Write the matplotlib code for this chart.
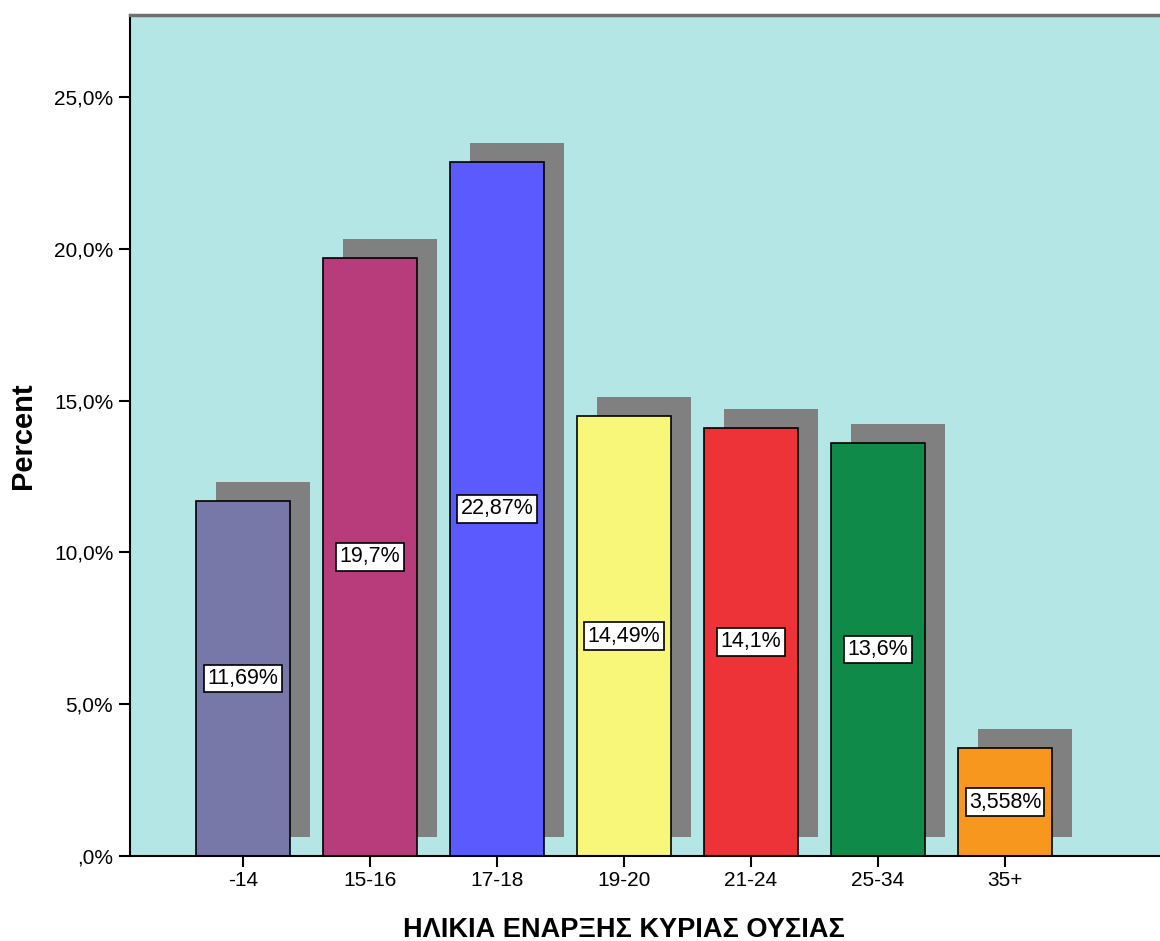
import numpy as np
from matplotlib import pyplot as plt

plt.rcParams['font.family'] = ['Liberation Sans', 'DejaVu Sans']

categories = ['-14', '15-16', '17-18', '19-20', '21-24', '25-34', '35+']
percent = [11.69, 19.7, 22.87, 14.49, 14.1, 13.6, 3.558]
labels = ['11,69%', '19,7%', '22,87%', '14,49%', '14,1%', '13,6%', '3,558%']
colors = ['#7878a8', '#b83c7c', '#5a5aff', '#f9f77a', '#ee3338', '#108a48', '#f8971e']
yticks = [0, 5, 10, 15, 20, 25]
ytick_labels = [',0%', '5,0%', '10,0%', '15,0%', '20,0%', '25,0%']

fig = plt.figure(figsize=(11.6, 9.41), dpi=100)
ax = fig.add_axes([0.112, 0.0903, 0.888, 0.8937])
ax.set_facecolor('#b4e6e6')

x = np.arange(len(categories))
width = 0.74
# drop shadow behind each bar
ax.bar(x + 0.157, percent, width, bottom=0.63, color='#808080', zorder=1)
ax.bar(x, percent, width, color=colors, edgecolor='black', linewidth=1.2, zorder=2)

for xi, v, lab in zip(x, percent, labels):
    ax.text(xi, v / 2, lab, ha='center', va='center', fontsize=15.5, zorder=3,
            bbox=dict(boxstyle='square,pad=0.15', facecolor='white',
                      edgecolor='black', linewidth=1.2))

ax.set_xlim(-0.89, 7.22)
ax.set_ylim(0, 27.7)
ax.set_xticks(x)
ax.set_xticklabels(categories, fontsize=15)
ax.set_yticks(yticks)
ax.set_yticklabels(ytick_labels, fontsize=15)
ax.tick_params(length=8, width=1.5, color='black', pad=4)
ax.tick_params(axis='x', pad=3)

for side in ['left', 'bottom']:
    ax.spines[side].set_linewidth(1.5)
    ax.spines[side].set_color('black')
ax.spines['top'].set_color('#707070')
ax.spines['top'].set_linewidth(2.5)
ax.spines['right'].set_visible(False)

ax.set_xlabel('ΗΛΙΚΙΑ ΕΝΑΡΞΗΣ ΚΥΡΙΑΣ ΟΥΣΙΑΣ', fontsize=19.5, fontweight='bold')
ax.xaxis.set_label_coords(0.48, -0.072)
ax.set_ylabel('Percent', fontsize=21, fontweight='bold', labelpad=12)

fig.savefig('out.png', dpi=100)
